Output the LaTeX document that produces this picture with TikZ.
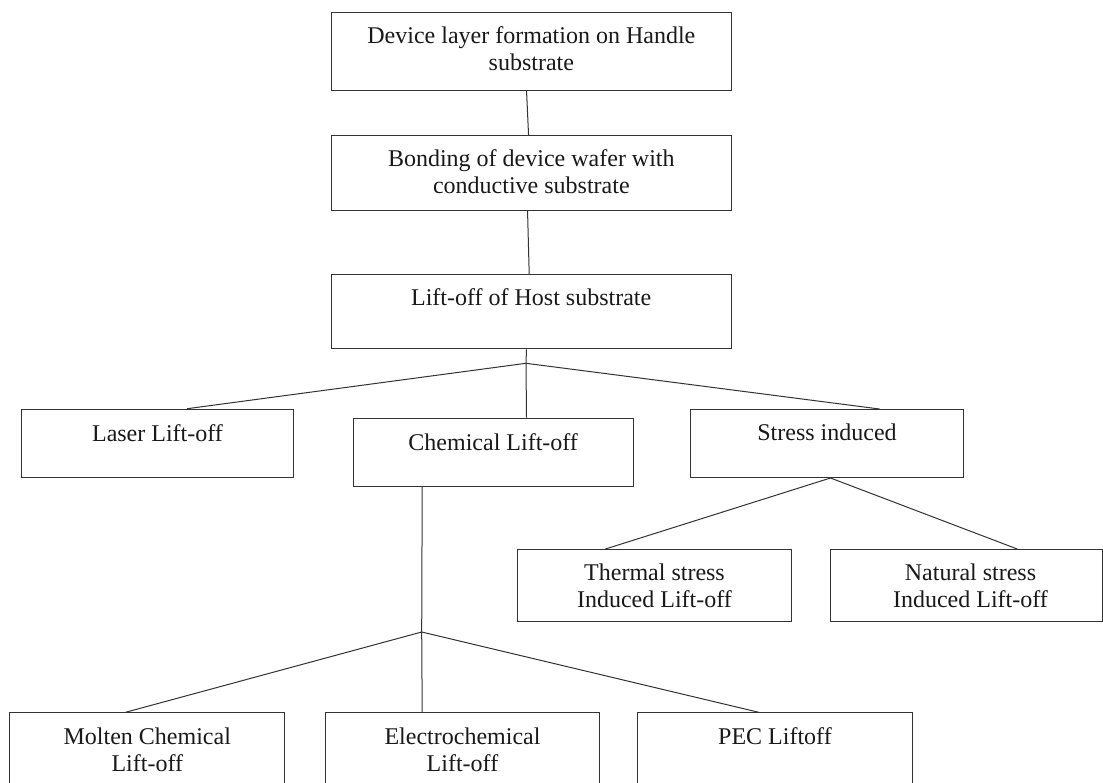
\documentclass[tikz,border=0pt]{standalone}
\usepackage{fontspec}
\setmainfont{Liberation Serif}
\begin{document}
\begin{tikzpicture}[x=1pt,y=-1pt,
  box/.style={draw=black!80, line width=1pt, inner sep=0pt, anchor=north west},
  txt/.style={inner sep=0pt, align=center, anchor=base, font=\fontsize{24}{27}\selectfont, text=black!90},
  conn/.style={draw=black!80, line width=1pt}]
\clip (0,0) rectangle (1103,783);
\fill[white] (0,0) rectangle (1103,783);
% boxes
\node[box, minimum width=399.7pt, minimum height=78.3pt] (b1) at (331,11.7) {};
\node[box, minimum width=399.7pt, minimum height=75pt] (b2) at (331,135) {};
\node[box, minimum width=400pt, minimum height=74.3pt] (b3) at (330.7,274) {};
\node[box, minimum width=272.6pt, minimum height=68pt] (laser) at (20.7,408.7) {};
\node[box, minimum width=280pt, minimum height=68pt] (chem) at (352.7,417.7) {};
\node[box, minimum width=273pt, minimum height=68pt] (stress) at (690,409) {};
\node[box, minimum width=274.6pt, minimum height=72pt] (thermal) at (516.7,549) {};
\node[box, minimum width=272pt, minimum height=72pt] (natural) at (830,549) {};
\node[box, minimum width=275pt, minimum height=74pt] (molten) at (9.3,712.3) {};
\node[box, minimum width=274pt, minimum height=74pt] (electro) at (325,712.3) {};
\node[box, minimum width=274.4pt, minimum height=74pt] (pec) at (637.3,712.3) {};
% texts (base anchor = baseline of last line)
\node[txt] (t1) at ([yshift=-58.6pt]b1.north) {Device layer formation on Handle\\substrate};
\node[txt] (t2) at ([yshift=-58.5pt]b2.north) {Bonding of device wafer with\\conductive substrate};
\node[txt] (t3) at ([yshift=-32pt]b3.north) {Lift-off of Host substrate};
\node[txt] (tl) at ([yshift=-33pt]laser.north) {Laser Lift-off};
\node[txt] (tc) at ([yshift=-32.3pt]chem.north) {Chemical Lift-off};
\node[txt] (ts) at ([yshift=-31.7pt]stress.north) {Stress induced};
\node[txt] (tt) at ([yshift=-58.5pt]thermal.north) {Thermal stress\\Induced Lift-off};
\node[txt] (tn) at ([yshift=-58.5pt,xshift=4pt]natural.north) {Natural stress\\Induced Lift-off};
\node[txt] (tm) at ([yshift=-59.5pt]molten.north) {Molten Chemical\\Lift-off};
\node[txt] (te) at ([yshift=-59.5pt]electro.north) {Electrochemical\\Lift-off};
\node[txt] (tp) at ([yshift=-31.7pt]pec.north) {PEC Liftoff};
% junctions
\coordinate (j1) at (526,363.3);
\coordinate (j2) at (421.7,632);
% connectors
\draw[conn] ([xshift=-4.8pt]b1.south) -- ([xshift=-2.8pt]b2.north);
\draw[conn] ([xshift=-3.8pt]b2.south) -- ([xshift=-2pt]b3.north);
\draw[conn] ([xshift=-4.7pt]b3.south) -- (j1);
\draw[conn] (j1) -- ([xshift=29.7pt]laser.north);
\draw[conn] (j1) -- ([xshift=33.3pt]chem.north);
\draw[conn] (j1) -- ([xshift=52.5pt]stress.north);
\draw[conn] ([xshift=3.5pt]stress.south) -- ([xshift=-49pt]thermal.north);
\draw[conn] ([xshift=3.5pt]stress.south) -- ([xshift=50.7pt]natural.north);
\draw[conn] ([xshift=-71pt]chem.south) -- (j2);
\draw[conn] (j2) -- ([xshift=-21.8pt]molten.north);
\draw[conn] (j2) -- ([xshift=-40.3pt]electro.north);
\draw[conn] (j2) -- ([xshift=-16.2pt]pec.north);
\end{tikzpicture}
\end{document}
